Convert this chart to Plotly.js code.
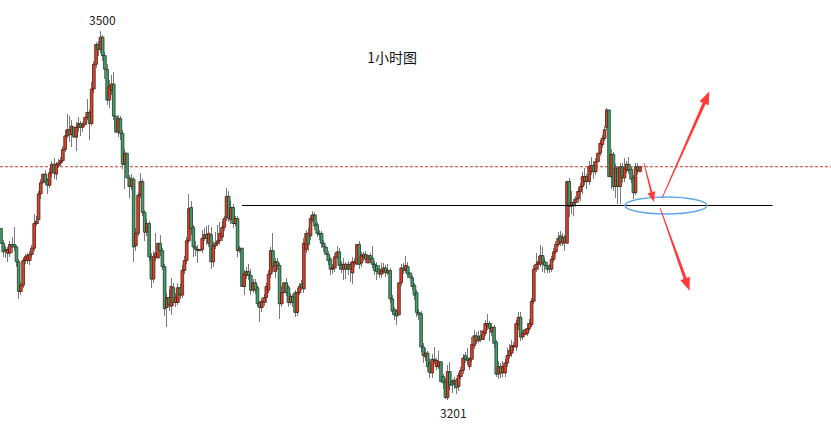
<!DOCTYPE html>
<html>
<head>
<meta charset="utf-8">
<script src="https://cdn.plot.ly/plotly-3.0.1.min.js"></script>
<style>html,body{margin:0;padding:0;background:#fff;}#chart{width:831px;height:430px;}</style>
</head>
<body>
<div id="chart"></div>
<script>
// 1-hour candles (price values)
const opens = [
3340,3328,3323,3320,3320,3327,3327,3325,3313,3289,3294,3314,3314,3314,3319,3324,3344,3347,3368,3377,3384,3379,3375,3385,3392,3384,
3391,3393,3395,3404,3415,3420,3416,3422,3414,3422,3425,3422,3424,3430,3434,3425,3453,3473,3489,3485,3495,3480,3469,3444,3452,3457,
3431,3418,3429,3417,3392,3401,3381,3374,3380,3326,3336,3367,3378,3353,3337,3344,3317,3299,3317,3316,3328,3322,3309,3276,3284,3277,
3292,3280,3280,3292,3286,3306,3314,3330,3357,3341,3325,3323,3322,3323,3332,3335,3328,3335,3313,3326,3328,3330,3333,3341,3349,3366,
3347,3357,3344,3348,3322,3324,3293,3302,3305,3302,3290,3296,3292,3280,3276,3280,3284,3290,3303,3322,3305,3313,3310,3279,3288,3296,
3292,3280,3285,3288,3272,3288,3295,3291,3323,3336,3334,3347,3351,3343,3336,3336,3328,3325,3319,3315,3307,3308,3317,3321,3311,3307,
3311,3307,3311,3304,3312,3311,3327,3312,3317,3319,3312,3318,3316,3311,3310,3307,3303,3305,3308,3304,3306,3283,3274,3273,3270,3296,
3308,3306,3309,3304,3300,3294,3288,3272,3271,3244,3236,3239,3231,3223,3234,3228,3228,3232,3220,3216,3203,3224,3216,3214,3217,3212,
3220,3225,3237,3235,3228,3234,3245,3253,3249,3253,3250,3255,3261,3263,3256,3260,3248,3222,3228,3223,3223,3231,3237,3239,3244,3244,
3262,3268,3252,3254,3255,3259,3262,3281,3307,3311,3311,3318,3313,3310,3309,3307,3315,3321,3327,3334,3328,3333,3328,3378,3358,3361,
3361,3364,3370,3374,3378,3382,3378,3386,3391,3386,3394,3401,3408,3413,3422,3436,3382,3400,3374,3389,3374,3390,3381,3387,3392,3388,
3381,3369,3390,3386];
const highs = [
3344,3331,3326,3325,3330,3333,3341,3327,3315,3297,3316,3319,3320,3322,3327,3352,3350,3370,3380,3386,3387,3381,3389,3395,3397,3394,
3396,3398,3407,3420,3433,3431,3428,3426,3426,3430,3427,3426,3442,3445,3436,3459,3476,3491,3492,3500,3497,3483,3473,3460,3464,3467,
3436,3432,3431,3420,3404,3405,3383,3384,3382,3340,3369,3385,3380,3355,3348,3346,3320,3322,3336,3337,3335,3324,3311,3288,3290,3300,
3296,3288,3296,3295,3310,3318,3333,3368,3362,3343,3330,3327,3333,3339,3340,3342,3343,3341,3330,3337,3343,3345,3346,3350,3373,3370,
3362,3360,3350,3350,3326,3326,3306,3309,3311,3307,3299,3299,3294,3281,3284,3287,3296,3306,3325,3336,3316,3316,3312,3293,3300,3300,
3294,3288,3287,3290,3292,3296,3298,3332,3339,3340,3351,3354,3353,3345,3339,3338,3331,3327,3322,3317,3311,3320,3326,3324,3314,3316,
3313,3314,3313,3317,3316,3331,3330,3321,3321,3322,3320,3320,3326,3314,3313,3310,3312,3312,3310,3311,3308,3286,3276,3275,3300,3311,
3312,3318,3313,3306,3302,3296,3290,3275,3273,3247,3243,3241,3234,3238,3244,3235,3241,3234,3222,3219,3229,3232,3218,3220,3219,3224,
3228,3238,3240,3243,3236,3252,3258,3256,3257,3258,3261,3266,3271,3265,3263,3262,3250,3233,3231,3233,3234,3243,3246,3250,3248,3266,
3272,3272,3258,3261,3263,3267,3284,3310,3320,3318,3327,3325,3316,3313,3311,3318,3324,3330,3337,3338,3336,3335,3385,3381,3370,3364,
3366,3373,3377,3386,3389,3384,3395,3398,3395,3397,3404,3412,3416,3423,3438,3437,3404,3402,3392,3391,3393,3393,3397,3395,3398,3390,
3383,3393,3393,3393];
const lows = [
3325,3317,3316,3313,3317,3320,3322,3309,3283,3286,3292,3311,3311,3310,3317,3322,3342,3344,3364,3372,3375,3368,3373,3382,3380,3379,
3389,3390,3393,3402,3413,3410,3406,3408,3403,3418,3415,3418,3421,3428,3412,3423,3450,3470,3480,3482,3476,3461,3440,3438,3448,3428,
3410,3414,3412,3388,3372,3378,3365,3371,3313,3322,3334,3365,3350,3330,3334,3314,3292,3296,3314,3312,3318,3306,3269,3260,3273,3270,
3277,3276,3278,3283,3284,3303,3311,3328,3335,3317,3318,3312,3318,3320,3330,3327,3325,3307,3309,3323,3326,3327,3330,3338,3346,3345,
3344,3340,3342,3317,3320,3288,3286,3299,3298,3286,3288,3287,3276,3264,3272,3277,3280,3288,3300,3305,3300,3306,3267,3276,3284,3285,
3276,3278,3276,3268,3269,3286,3290,3288,3320,3322,3331,3345,3339,3333,3331,3324,3321,3315,3310,3302,3303,3305,3315,3306,3304,3298,
3299,3302,3297,3295,3309,3309,3307,3309,3314,3312,3309,3312,3308,3302,3298,3300,3300,3303,3301,3302,3280,3270,3266,3262,3268,3293,
3303,3304,3300,3297,3290,3282,3268,3266,3240,3231,3233,3224,3219,3219,3230,3225,3226,3213,3210,3202,3201,3209,3207,3210,3206,3208,
3218,3222,3231,3229,3225,3232,3242,3246,3247,3248,3248,3253,3258,3249,3253,3243,3220,3218,3219,3220,3220,3228,3234,3236,3241,3241,
3258,3249,3250,3252,3253,3257,3260,3279,3305,3306,3309,3305,3304,3304,3304,3305,3313,3319,3325,3326,3326,3322,3326,3349,3352,3350,
3357,3361,3362,3368,3375,3372,3375,3383,3380,3383,3391,3399,3405,3411,3420,3375,3372,3370,3365,3360,3360,3377,3378,3385,3384,3377,
3364,3367,3384,3382];
const closes = [
3328,3321,3322,3323,3327,3325,3325,3313,3289,3294,3314,3317,3318,3319,3324,3344,3346,3368,3377,3384,3378,3375,3385,3392,3385,3392,
3393,3395,3404,3415,3420,3416,3423,3414,3422,3425,3422,3424,3430,3434,3425,3453,3473,3489,3485,3495,3480,3469,3444,3455,3457,3431,
3418,3429,3417,3392,3401,3381,3374,3380,3325,3336,3367,3378,3353,3337,3344,3317,3299,3317,3320,3328,3322,3309,3275,3284,3278,3293,
3280,3284,3292,3286,3306,3314,3330,3356,3340,3325,3323,3322,3323,3332,3335,3332,3336,3313,3326,3328,3330,3336,3341,3348,3366,3348,
3357,3344,3348,3322,3324,3293,3303,3305,3302,3290,3296,3290,3279,3276,3281,3284,3293,3303,3322,3309,3313,3310,3279,3288,3296,3288,
3280,3285,3280,3272,3288,3293,3292,3328,3336,3327,3348,3351,3342,3336,3335,3328,3325,3319,3314,3307,3308,3317,3321,3310,3307,3311,
3307,3311,3307,3313,3313,3327,3311,3318,3319,3315,3318,3315,3311,3306,3305,3303,3306,3308,3304,3306,3283,3273,3270,3269,3296,3308,
3306,3310,3303,3300,3293,3286,3272,3270,3244,3237,3239,3228,3223,3234,3233,3233,3232,3216,3215,3203,3224,3213,3213,3217,3211,3221,
3225,3235,3234,3233,3234,3246,3253,3249,3252,3250,3257,3263,3263,3259,3260,3247,3222,3228,3223,3228,3231,3237,3241,3245,3245,3263,
3268,3252,3255,3258,3259,3263,3281,3307,3311,3313,3318,3312,3310,3307,3307,3315,3321,3327,3332,3329,3333,3329,3378,3358,3361,3359,
3364,3370,3374,3382,3382,3378,3390,3391,3386,3394,3401,3409,3413,3420,3436,3382,3400,3374,3389,3374,3390,3381,3389,3392,3387,3380,
3369,3390,3387,3390];

const titleText = '1小时图';
const supportLevel = 3358.6;    // horizontal black line
const supportFrom = 109, supportTo = 349;

// axis ranges (index units / price)
const XR = [-0.452, 375.4], YR = [3176.7, 3525.1], W = 831, H = 430;

// ---- build traces ----
const n = Math.min(opens.length, highs.length, lows.length, closes.length);
const xs = [], wickBase = [], wickLen = [], base = [], size = [], fill = [], edge = [];
for (let i = 0; i < n; i++) {
  xs.push(i);
  wickBase.push(lows[i]); wickLen.push(highs[i] - lows[i]);
  const up = closes[i] >= opens[i];
  base.push(Math.min(opens[i], closes[i]));
  size.push(Math.max(Math.abs(closes[i] - opens[i]), 0.6));
  fill.push(up ? '#dc452d' : '#4a9c6c');
  edge.push(up ? '#4d170d' : '#183b27');
}
const wicks = {
  type: 'bar', x: xs, y: wickLen, base: wickBase, width: 0.42,
  marker: {color: '#7a7a7a', line: {width: 0}},
  hoverinfo: 'skip', showlegend: false
};
const bodies = {
  type: 'bar', x: xs, y: size, base: base, width: 1.2,
  marker: {color: fill, line: {color: edge, width: 0.8}},
  hoverinfo: 'skip', showlegend: false
};

let iMax = 0, iMin = 0;
for (let i = 0; i < n; i++) { if (highs[i] > highs[iMax]) iMax = i; if (lows[i] < lows[iMin]) iMin = i; }
const last = closes[n - 1];

// tapered drawn arrows (tail thin, head wide), built in pixel space then mapped back to data
const sx = W / (XR[1] - XR[0]), sy = H / (YR[1] - YR[0]);
function toPx(x, y) { return [(x - XR[0]) * sx, (YR[1] - y) * sy]; }
function toData(px, py) { return [XR[0] + px / sx, YR[1] - py / sy]; }
function taperArrow(tx, ty, hx, hy, shaftW, headL, headW) {
  const [ax, ay] = toPx(tx, ty), [bx, by] = toPx(hx, hy);
  const len = Math.hypot(bx - ax, by - ay), ux = (bx - ax) / len, uy = (by - ay) / len;
  const nx = -uy, ny = ux;
  const cx = bx - ux * headL, cy = by - uy * headL;
  const pts = [
    [ax + nx * 0.4, ay + ny * 0.4],
    [cx + nx * shaftW / 2, cy + ny * shaftW / 2],
    [cx + nx * headW / 2, cy + ny * headW / 2],
    [bx, by],
    [cx - nx * headW / 2, cy - ny * headW / 2],
    [cx - nx * shaftW / 2, cy - ny * shaftW / 2],
    [ax - nx * 0.4, ay - ny * 0.4]
  ].map(p => toData(p[0], p[1]));
  const path = 'M ' + pts.map(p => p[0].toFixed(3) + ' ' + p[1].toFixed(3)).join(' L ') + ' Z';
  return {type: 'path', xref: 'x', yref: 'y', path: path, fillcolor: '#ff3838', line: {width: 0}};
}

const layout = {
  width: W, height: H,
  margin: {l: 0, r: 0, t: 0, b: 0},
  paper_bgcolor: '#ffffff', plot_bgcolor: '#ffffff',
  showlegend: false, bargap: 0, barmode: 'overlay',
  title: {text: titleText, x: 0.472, y: 0.865, xref: 'paper', yref: 'paper', xanchor: 'center', yanchor: 'middle',
    font: {family: 'Noto Sans CJK SC', size: 14, color: '#111111'}},
  xaxis: {range: XR, visible: false, showgrid: false, zeroline: false, fixedrange: true},
  yaxis: {range: YR, visible: false, showgrid: false, zeroline: false, fixedrange: true},
  shapes: [
    {type: 'line', xref: 'paper', x0: 0, x1: 1, yref: 'y', y0: last, y1: last, line: {color: '#c4402e', width: 1, dash: '3px,2px'}, layer: 'below'},
    {type: 'line', xref: 'x', yref: 'y', x0: supportFrom, x1: supportTo, y0: supportLevel, y1: supportLevel, line: {color: '#000000', width: 1}},
    {type: 'circle', xref: 'x', yref: 'y', x0: 282.2, x1: 319.3, y0: 3351.7, y1: 3365.5, line: {color: '#62a8ea', width: 1.5}},
    taperArrow(290.8, 3393.0, 295.3, 3361.4, 2.0, 10, 8),
    taperArrow(299.0, 3364.7, 320.4, 3451.0, 3.2, 13, 10),
    taperArrow(298.1, 3356.6, 311.4, 3289.5, 3.2, 13, 10)
  ],
  annotations: [
    {x: iMax, y: highs[iMax], xref: 'x', yref: 'y', text: String(highs[iMax]), showarrow: false, yanchor: 'bottom', yshift: 1, xshift: 2,
      font: {family: 'Noto Sans CJK SC', size: 12, color: '#222222'}},
    {x: iMin, y: lows[iMin], xref: 'x', yref: 'y', text: String(lows[iMin]), showarrow: false, yanchor: 'top', yshift: -2, xshift: 6,
      font: {family: 'Noto Sans CJK SC', size: 12, color: '#222222'}}
  ]
};

Plotly.newPlot('chart', [wicks, bodies], layout, {staticPlot: true, displayModeBar: false});
</script>
</body>
</html>
